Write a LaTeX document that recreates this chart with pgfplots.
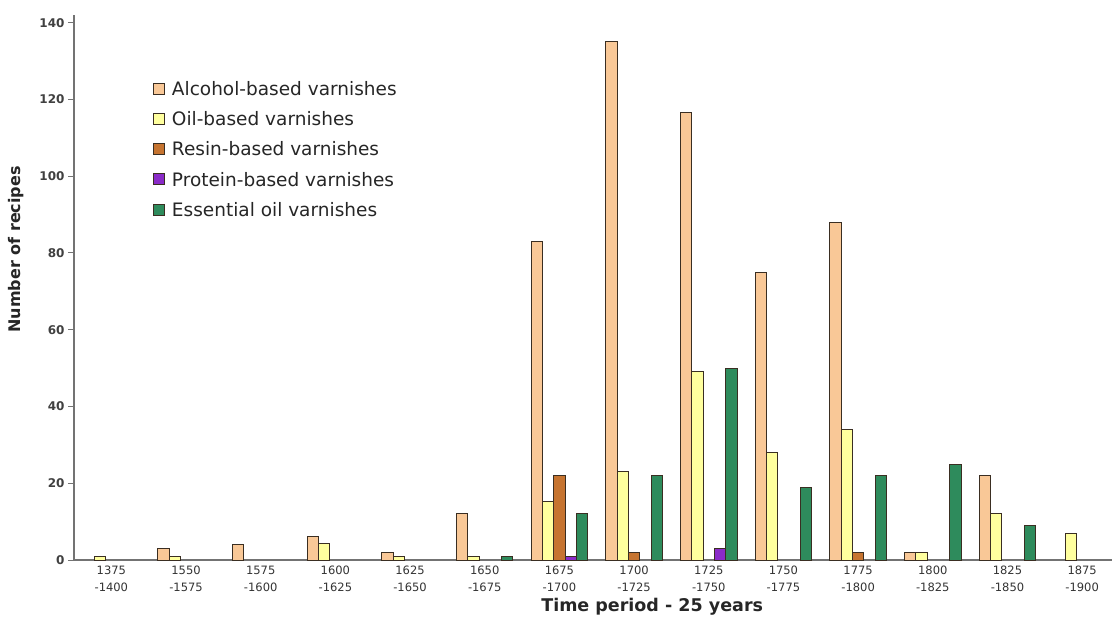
\documentclass[border=0pt]{standalone}
\usepackage{pgfplots}
\pgfplotsset{compat=1.18}
\usepackage{fontspec}
\setmainfont{DejaVu Sans}
\definecolor{alc}{HTML}{F9C897}
\definecolor{oil}{HTML}{FFFF9E}
\definecolor{res}{HTML}{C67430}
\definecolor{pro}{HTML}{8A2BC8}
\definecolor{ess}{HTML}{2E8B5C}
\definecolor{edge}{HTML}{3A2E22}
\newcommand{\tl}[2]{\strut#1\\\strut#2}
\begin{document}
\begin{tikzpicture}
\path[use as bounding box] (-74pt,-61pt) rectangle (1041pt,560pt);
\begin{axis}[
  at={(0pt,0pt)}, anchor=south west,
  scale only axis, width=1038pt, height=545pt,
  xmin=-0.5, xmax=13.4, ymin=0, ymax=142,
  axis lines=left,
  axis line style={draw=black!55, line width=1.2pt, -},
  ybar=0pt, bar width=11.3pt,
  xtick={0,...,13},
  xticklabels={{\tl{1375}{-1400}},{\tl{1550}{-1575}},{\tl{1575}{-1600}},{\tl{1600}{-1625}},{\tl{1625}{-1650}},{\tl{1650}{-1675}},{\tl{1675}{-1700}},{\tl{1700}{-1725}},{\tl{1725}{-1750}},{\tl{1750}{-1775}},{\tl{1775}{-1800}},{\tl{1800}{-1825}},{\tl{1825}{-1850}},{\tl{1875}{-1900}}},
  xticklabel style={align=center, font=\fontsize{11.5}{17.5}\selectfont, text=black!80, anchor=north, inner sep=0pt, yshift=4pt},
  major x tick style={draw=none},
  ytick={0,20,...,140},
  yticklabel style={font=\fontsize{12}{14}\selectfont\bfseries, text=black!75},
  ytick style={draw=black!55, line width=1pt},
  tick align=outside, major tick length=6pt,
  /pgf/number format/assume math mode=true,
  ylabel={\bfseries Number of recipes},
  ylabel style={at={(axis description cs:-0.056,0.57)}, anchor=center, font=\fontsize{16}{18}\selectfont, text=black!85},
  xlabel={\bfseries Time period - 25 years},
  xlabel style={at={(axis description cs:0.557,0)}, yshift=-47pt, anchor=center, font=\fontsize{17.5}{20}\selectfont, text=black!85},
  legend style={at={(axis description cs:0.073,0.886)}, anchor=north west, draw=none, fill=none,
    font=\fontsize{18.5}{21}\selectfont, row sep=10.7pt, column sep=5pt, text=black!85},
  legend cell align=left,
  legend image code/.code={\draw[#1, line width=1pt] (0pt,-5pt) rectangle (11pt,6pt);},
  every axis plot/.append style={draw=edge, line width=1pt},
]
\addplot[fill=alc] coordinates {(1,3)(2,4)(3,6)(4,2)(5,12)(6,83)(7,135)(8,116.5)(9,75)(10,88)(11,2)(12,22)};
\addplot[fill=oil] coordinates {(0,1)(1,1)(3,4.3)(4,1)(5,1)(6,15.3)(7,23)(8,49)(9,28)(10,34)(11,2)(12,12)(13,7)};
\addplot[fill=res] coordinates {(6,22)(7,2)(10,2)};
\addplot[fill=pro] coordinates {(6,1)(8,3)};
\addplot[fill=ess] coordinates {(5,1)(6,12)(7,22)(8,50)(9,19)(10,22)(11,25)(12,9)};
\legend{Alcohol-based varnishes,Oil-based varnishes,Resin-based varnishes,Protein-based varnishes,Essential oil varnishes}
\end{axis}
\end{tikzpicture}
\end{document}
